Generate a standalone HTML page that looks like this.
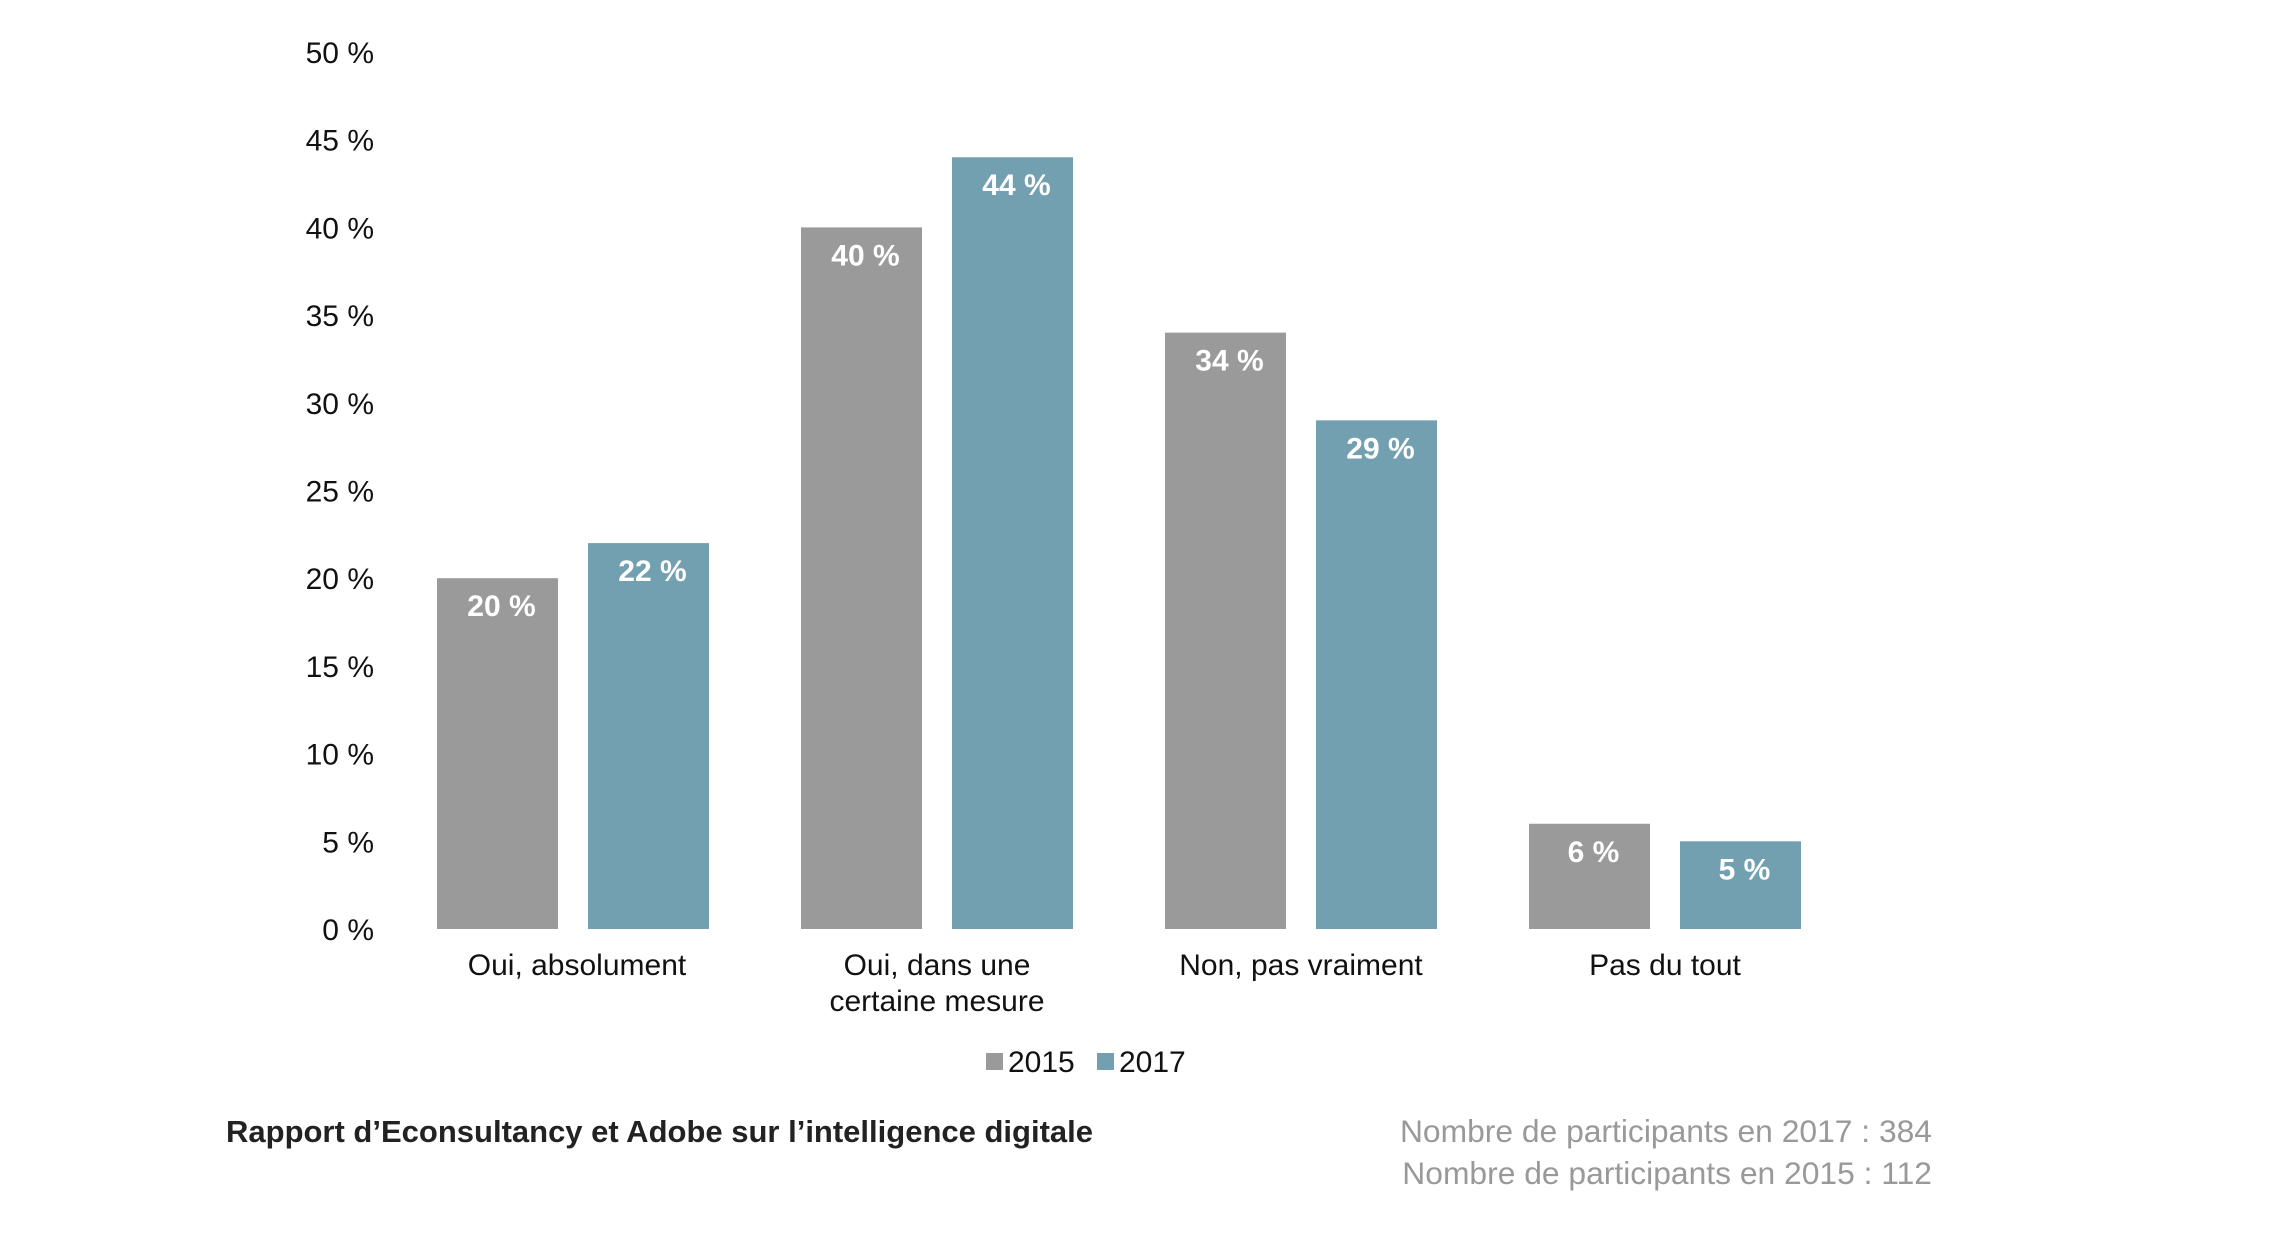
<!DOCTYPE html>
<html><head><meta charset="utf-8"><style>
html,body{margin:0;padding:0;background:#fff;}
svg{display:block;font-family:"Liberation Sans",sans-serif;}
</style></head><body>
<svg id="chart" width="2284" height="1254" viewBox="0 0 2284 1254">
<g id="yaxis"></g>
<g id="bars"></g>
<g id="xaxis"></g>
<g font-size="30" fill="#111">
  <rect x="986" y="1053" width="17" height="17" fill="#9a9a9a"/>
  <text x="1008" y="1072">2015</text>
  <rect x="1097" y="1053" width="17" height="17" fill="#72a0b0"/>
  <text x="1119" y="1072">2017</text>
</g>
<text x="226" y="1142" font-size="31" font-weight="bold" fill="#222">Rapport d’Econsultancy et Adobe sur l’intelligence digitale</text>
<text x="1932" y="1142" font-size="31.8" fill="#999" text-anchor="end">Nombre de participants en 2017 : 384</text>
<text x="1932" y="1184" font-size="31.8" fill="#999" text-anchor="end">Nombre de participants en 2015 : 112</text>
</svg>
<script>
const categories = [["Oui, absolument"], ["Oui, dans une", "certaine mesure"], ["Non, pas vraiment"], ["Pas du tout"]];
const values2015 = [20, 40, 34, 6];
const values2017 = [22, 44, 29, 5];
const yTicks = [0, 5, 10, 15, 20, 25, 30, 35, 40, 45, 50];

const NS = "http://www.w3.org/2000/svg";
const y0 = 929, yTop = 52, yMax = 50;
function yScale(v){ return y0 - (y0 - yTop) * v / yMax; }
const groupStart = 437, groupStep = 364, barW = 121, barGap = 30;
function xBar(i, s){ return groupStart + i * groupStep + s * (barW + barGap); }
function mk(tag, attrs, parent){ const e = document.createElementNS(NS, tag); for (const k in attrs) e.setAttribute(k, attrs[k]); parent.appendChild(e); return e; }

const yaxis = document.getElementById('yaxis');
yTicks.forEach(t => {
  const el = mk('text', {x: 374, y: yScale(t) + 11, 'font-size': 30, fill: '#111', 'text-anchor': 'end'}, yaxis);
  el.textContent = t + ' %';
  
  
});

const bars = document.getElementById('bars');
[[values2015, '#9a9a9a', '2015'], [values2017, '#72a0b0', '2017']].forEach((ser, s) => {
  ser[0].forEach((v, i) => {
    const x = xBar(i, s), top = yScale(v);
    const r = mk('rect', {x: x, y: top, width: barW, height: y0 - top, fill: ser[1]}, bars);
    
    
    const t = mk('text', {x: x + barW / 2 + 4, y: top + 38, 'font-size': 30, 'font-weight': 'bold', fill: '#fff', 'text-anchor': 'middle'}, bars);
    t.textContent = v + ' %';
    
    
  });
});

const xaxis = document.getElementById('xaxis');
categories.forEach((lines, i) => {
  const cx = xBar(i, 0) + (2 * barW + barGap) / 2 + (i === 0 ? 4 : 0);
  lines.forEach((ln, j) => {
    const t = mk('text', {x: cx, y: 975 + j * 36, 'font-size': 30, fill: '#111', 'text-anchor': 'middle'}, xaxis);
    t.textContent = ln;
    
    
  });
});
</script>
</body></html>
